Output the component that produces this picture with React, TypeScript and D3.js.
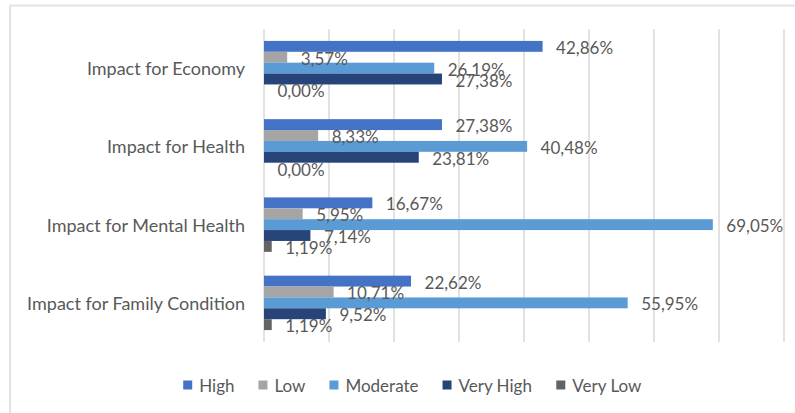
import React, { useMemo } from "react";
import * as d3 from "d3";

// Survey shares per impact category, one array per response level
const categories = [
  "Impact for Economy",
  "Impact for Health",
  "Impact for Mental Health",
  "Impact for Family Condition",
];
const seriesNames = ["High", "Low", "Moderate", "Very High", "Very Low"];
const high = [0.4286, 0.2738, 0.1667, 0.2262];
const low = [0.0357, 0.0833, 0.0595, 0.1071];
const moderate = [0.2619, 0.4048, 0.6905, 0.5595];
const veryHigh = [0.2738, 0.2381, 0.0714, 0.0952];
const veryLow = [0.0, 0.0, 0.0119, 0.0119];
const seriesValues = [high, low, moderate, veryHigh, veryLow];
const xTicks = [0, 0.1, 0.2, 0.3, 0.4, 0.5, 0.6, 0.7, 0.8];

const colors = ["#4472C4", "#A5A5A5", "#5B9BD5", "#264478", "#636363"];
const textColor = "#595959";
const gridColor = "#d9d9d9";
const fontFamily = "Lato, 'Open Sans', sans-serif";

const W = 795;
const H = 413;
const plot = { left: 264, right: 784, top: 29, bottom: 342 };

const locale = d3.formatLocale({
  decimal: ",",
  thousands: ".",
  grouping: [3],
  currency: ["", ""],
});
const pct = locale.format(".2%");

function measure(text: string, font: string): number {
  const c = document.createElement("canvas");
  const ctx = c.getContext("2d");
  if (!ctx) return text.length * 8;
  ctx.font = font;
  return ctx.measureText(text).width;
}

export default function App() {
  const x = d3.scaleLinear().domain([0, 0.8]).range([plot.left, plot.right]);
  const y = d3
    .scaleBand<string>()
    .domain(categories)
    .range([plot.top, plot.bottom])
    .paddingInner(0)
    .paddingOuter(0);
  const inner = d3
    .scaleBand<string>()
    .domain(seriesNames)
    .range([0, y.bandwidth()])
    .paddingInner(0)
    .paddingOuter(1.095);

  const legendSize = 17;
  const legendFont = `${legendSize}px ${fontFamily}`;
  const legendItems = useMemo(() => {
    const sw = 9;
    const gapText = 7;
    const gapItem = 24;
    const widths = seriesNames.map((s) => measure(s, legendFont));
    const total =
      widths.reduce((a, w) => a + sw + gapText + w, 0) +
      gapItem * (seriesNames.length - 1);
    let cx = 412.5 - total / 2;
    return seriesNames.map((s, i) => {
      const item = { name: s, x: cx, color: colors[i] };
      cx += sw + gapText + widths[i] + gapItem;
      return item;
    });
  }, []);

  return (
    <svg
      width={W}
      height={H}
      style={{ position: "absolute", left: 0, top: 0, display: "block", background: "#fff" }}
      fontFamily={fontFamily}
    >
      <rect x={0} y={0} width={W} height={H} fill="#fff" />
      {/* chart frame */}
      <path d={`M${W},5.5 H10 V${H}`} fill="none" stroke="#e3e3e3" strokeWidth={2} />

      {/* vertical gridlines */}
      {xTicks.map((t) => (
        <line
          key={t}
          x1={x(t)}
          x2={x(t)}
          y1={plot.top}
          y2={plot.bottom}
          stroke={gridColor}
          strokeWidth={1.5}
        />
      ))}

      {/* category labels */}
      {categories.map((c) => (
        <text
          key={c}
          x={245}
          y={(y(c) ?? 0) + y.bandwidth() / 2}
          textAnchor="end"
          dominantBaseline="central"
          fontSize={18}
          fill={textColor}
        >
          {c}
        </text>
      ))}

      {/* bars */}
      {categories.map((c, ci) =>
        seriesNames.map((s, si) => {
          const v = seriesValues[si][ci];
          const by = (y(c) ?? 0) + (inner(s) ?? 0);
          return (
            <rect
              key={`${c}-${s}`}
              x={x(0)}
              y={by}
              width={x(v) - x(0)}
              height={inner.bandwidth()}
              fill={colors[si]}
            />
          );
        })
      )}

      {/* value labels */}
      {categories.map((c, ci) =>
        seriesNames.map((s, si) => {
          const v = seriesValues[si][ci];
          const by = (y(c) ?? 0) + (inner(s) ?? 0) + inner.bandwidth() / 2;
          return (
            <text
              key={`lbl-${c}-${s}`}
              x={x(v) + 13.5}
              y={by + 1}
              dominantBaseline="central"
              fontSize={17}
              fill={textColor}
            >
              {pct(v)}
            </text>
          );
        })
      )}

      {/* legend */}
      {legendItems.map((it) => (
        <g key={it.name}>
          <rect x={it.x} y={380.5} width={9} height={9} fill={it.color} />
          <text
            x={it.x + 16}
            y={385}
            dominantBaseline="central"
            fontSize={legendSize}
            fill={textColor}
          >
            {it.name}
          </text>
        </g>
      ))}
    </svg>
  );
}
